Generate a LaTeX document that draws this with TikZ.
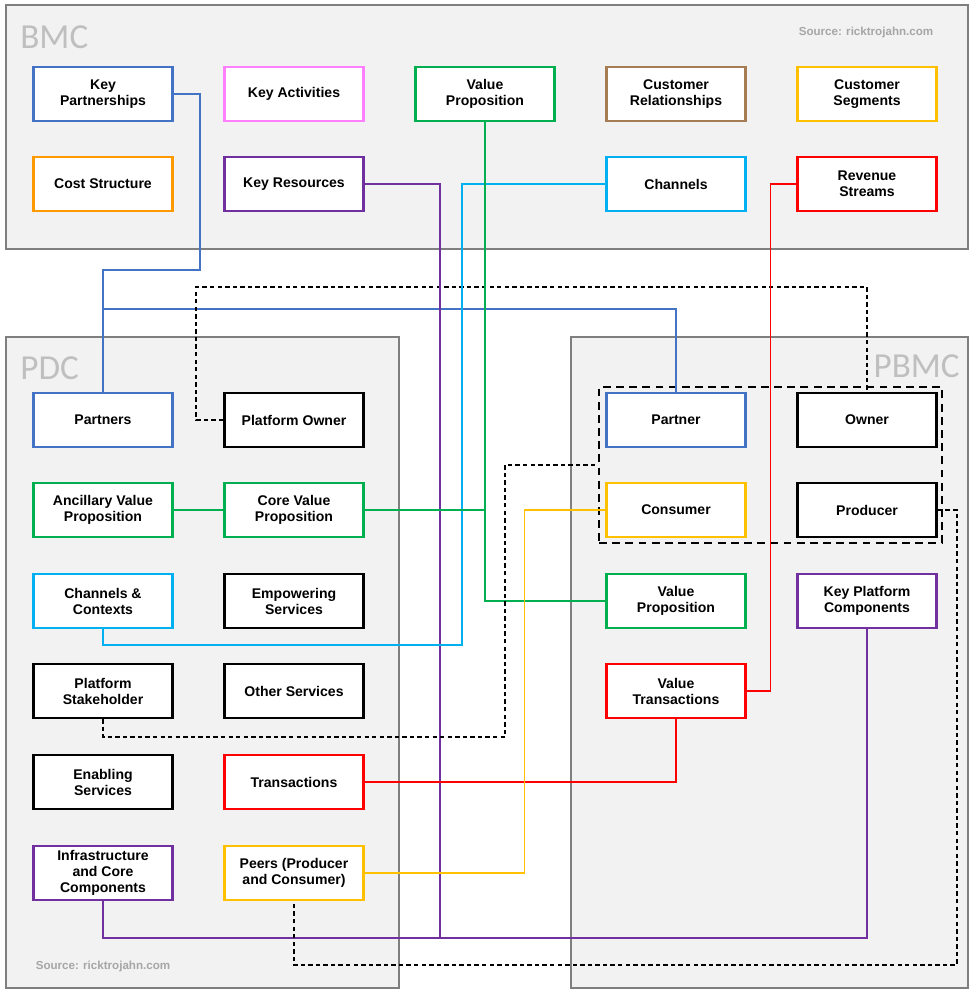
\documentclass[tikz,border=0pt]{standalone}
\usepackage{fontspec}
\setmainfont{Liberation Sans}
\newfontfamily\titlefont{Carlito}
\usetikzlibrary{calc, positioning}
\definecolor{kblue}{HTML}{4472C4}
\definecolor{kpink}{HTML}{FF80FF}
\definecolor{kgreen}{HTML}{00B050}
\definecolor{kbrown}{HTML}{A67C52}
\definecolor{kyellow}{HTML}{FFC000}
\definecolor{korange}{HTML}{FF9900}
\definecolor{kpurple}{HTML}{7030A0}
\definecolor{kcyan}{HTML}{00B0F0}
\definecolor{kred}{HTML}{FF0000}
\definecolor{pfill}{HTML}{F2F2F2}
\definecolor{pgray}{HTML}{7F7F7F}
\definecolor{tgray}{HTML}{BFBFBF}
\definecolor{sgray}{HTML}{A6A6A6}

\begin{document}
\begin{tikzpicture}[x=0.02cm, y=-0.02cm,
        panel/.style={draw = pgray, fill = pfill, line width = 1.2pt, inner sep = 0pt},
        box/.style={draw, fill = white, line width = 1.3pt, minimum width = 2.78cm, minimum height = 1.08cm,
                align = center, inner sep = 1pt, font = \fontsize{8}{9.1}\selectfont\bfseries},
        grp/.style={draw, line width = 1.2pt, dash pattern = on 4.5pt off 3pt, inner sep = 0pt},
        wire/.style={line width = 1pt},
        dline/.style={line width = 1pt, dash pattern = on 2.5pt off 1.8pt},
        ptitle/.style={text = tgray, font = \titlefont\fontsize{20}{20}\selectfont, inner sep = 0pt},
        src/.style={text = sgray, font = \fontsize{6.6}{7}\selectfont\bfseries, inner sep = 0pt}]
    \useasboundingbox (0,0) rectangle (976,997);
    \node[panel, minimum width = 19.24cm, minimum height = 4.88cm] (bmc) at (487,127) {};
    \node[panel, minimum width = 7.86cm, minimum height = 13.02cm] (pdc) at (202.5,662.5) {};
    \node[panel, minimum width = 7.94cm, minimum height = 13.02cm] (pbmc) at (769.5,662.5) {};
    \node[ptitle, anchor = west] (tbmc) at (20,37) {BMC};
    \node[ptitle, anchor = west] (tpdc) at (20,368) {PDC};
    \node[ptitle, anchor = east] (tpbmc) at (960,366) {PBMC};
    \node[src] (srctop) at (866,33) {Source: ricktrojahn.com};
    \node[src] (srcbot) at (103,966) {Source: ricktrojahn.com};
    \node[grp, minimum width = 6.86cm, minimum height = 3.12cm] (group) at (770.5,465) {};

    \node[box, draw = kblue] (kp) at (103,94) {Key\\Partnerships};
    \node[box, draw = kpink] (ka) at (294,94) {Key Activities};
    \node[box, draw = kgreen] (vp) at (485,94) {Value\\Proposition};
    \node[box, draw = kbrown] (cr) at (676,94) {Customer\\Relationships};
    \node[box, draw = kyellow] (cs) at (867,94) {Customer\\Segments};
    \node[box, draw = korange] (cost) at (103,184) {Cost Structure};
    \node[box, draw = kpurple] (kr) at (294,184) {Key Resources};
    \node[box, draw = kcyan] (ch) at (676,184) {Channels};
    \node[box, draw = kred] (rs) at (867,184) {Revenue\\Streams};

    \node[box, draw = kblue] (ptn) at (103,420) {Partners};
    \node[box] (pown) at (294,420) {Platform Owner};
    \node[box, draw = kgreen] (avp) at (103,510) {Ancillary Value\\Proposition};
    \node[box, draw = kgreen] (cvp) at (294,510) {Core Value\\Proposition};
    \node[box, draw = kcyan] (chc) at (103,601) {Channels \&\\Contexts};
    \node[box] (emp) at (294,601) {Empowering\\Services};
    \node[box] (pst) at (103,691) {Platform\\Stakeholder};
    \node[box] (oth) at (294,691) {Other Services};
    \node[box] (ena) at (103,782) {Enabling\\Services};
    \node[box, draw = kred] (trn) at (294,782) {Transactions};
    \node[box, draw = kpurple] (inf) at (103,873) {Infrastructure\\and Core\\Components};
    \node[box, draw = kyellow] (peer) at (294,873) {Peers (Producer\\and Consumer)};

    \node[box, draw = kblue] (partner) at (676,420) {Partner};
    \node[box] (owner) at (867,420) {Owner};
    \node[box, draw = kyellow] (consumer) at (676,510) {Consumer};
    \node[box] (producer) at (867,510) {Producer};
    \node[box, draw = kgreen] (pvp) at (676,601) {Value\\Proposition};
    \node[box, draw = kpurple] (kpc) at (867,601) {Key Platform\\Components};
    \node[box, draw = kred] (vtr) at (676,691) {Value\\Transactions};

    \draw[kblue, wire] (kp.east) -- ++(26,0) -- ++(0,176) -| (ptn.north);
    \draw[kblue, wire] (ptn.north) -- ++(0,-83) -| (partner.north);
    \draw[dline] (pown.west) -- ++(-27,0) |- ($(owner.north)+(0,-105)$) -- (owner.north);
    \draw[kpurple, wire] (kr.east) -- ++(75,0) -- ++(0,754);
    \draw[kpurple, wire] (inf.south) -- ++(0,37) -| (kpc.south);
    \draw[kcyan, wire] (ch.west) -- ++(-143,0) -- ++(0,461) -| (chc.south);
    \draw[kgreen, wire] (vp.south) |- (pvp.west);
    \draw[kgreen, wire] (avp) -- (cvp);
    \draw[kgreen, wire] (cvp.east) -- (vp.south |- cvp.east);
    \draw[kred, wire] (rs.west) -- ++(-26,0) |- (vtr.east);
    \draw[kred, wire] (trn.east) -| (vtr.south);
    \draw[kyellow, wire] (consumer.west) -- ++(-81,0) |- (peer.east);
    \draw[dline] (pst.south) -- ++(0,18) -- ++(402,0) |- (group.west);
    \draw[dline] (producer.east) -- ++(19,0) |- ($(peer.south)+(0,64)$) -- (peer.south);
\end{tikzpicture}
\end{document}
